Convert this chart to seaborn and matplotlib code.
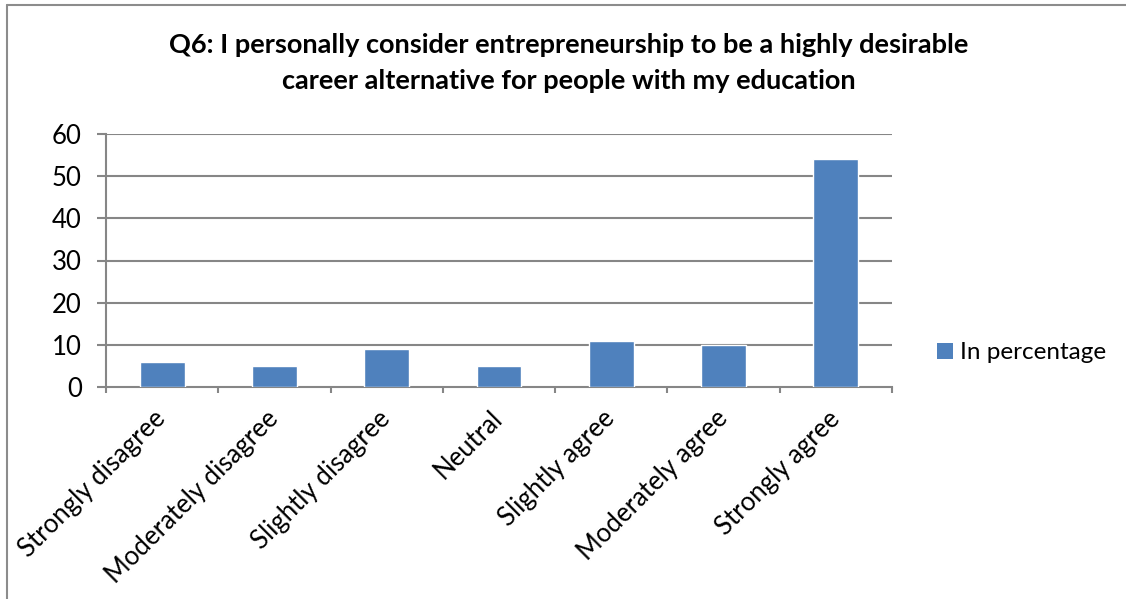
import matplotlib
matplotlib.use("Agg")
import matplotlib.pyplot as plt
import seaborn as sns
import pandas as pd
from matplotlib.patches import Patch
from matplotlib.lines import Line2D

categories = ["Strongly disagree", "Moderately disagree", "Slightly disagree",
              "Neutral", "Slightly agree", "Moderately agree", "Strongly agree"]
values = [6, 5, 9, 5, 11, 10, 54]
series_name = "In percentage"
title = ("Q6: I personally consider entrepreneurship to be a highly desirable\n"
         "career alternative for people with my education")
y_ticks = [0, 10, 20, 30, 40, 50, 60]

sns.set_theme(style="white")
plt.rcParams["font.family"] = ["Lato", "DejaVu Sans"]

W, H = 1126, 599
fig = plt.figure(figsize=(W / 100, H / 100), dpi=100)
ax = fig.add_axes([106 / W, (H - 387) / H, 786 / W, 253 / H])

df = pd.DataFrame({"category": categories, "value": values})
bar_color = "#4F81BD"
grid_color = "#868686"

sns.barplot(data=df, x="category", y="value", color=bar_color, width=0.4,
            saturation=1, ax=ax, zorder=3)

ax.set_xlim(-0.5, len(categories) - 0.5)
ax.set_ylim(0, 60)
ax.set_yticks(y_ticks)
ax.set_xlabel("")
ax.set_ylabel("")

# horizontal grid
for y in y_ticks[1:]:
    ax.axhline(y, color=grid_color, lw=1.5, zorder=1)

for s in ["top", "right"]:
    ax.spines[s].set_visible(False)
for s in ["left", "bottom"]:
    ax.spines[s].set_color(grid_color)
    ax.spines[s].set_linewidth(1.5)

ax.tick_params(axis="y", which="major", direction="out", length=6.5, width=1.5,
               color=grid_color, labelsize=18.5, labelcolor="black", pad=11, left=True)
ax.set_xticks(range(len(categories)))
ax.set_xticklabels(categories, rotation=45, ha="right", va="center",
                   rotation_mode="anchor", fontsize=18.5, color="black")
ax.tick_params(axis="x", which="major", length=0, pad=20)
ax.set_xticks([i - 0.5 for i in range(len(categories) + 1)], minor=True)
ax.tick_params(axis="x", which="minor", direction="out", length=4.5, width=1.5,
               color=grid_color, bottom=True)

fig.suptitle(title, fontsize=19.5, fontweight="bold", x=569 / W, y=1 - 33 / H,
             va="top", linespacing=1.6, color="black")

handle = Patch(facecolor=bar_color, edgecolor="none")
fig.legend([handle], [series_name], loc="center left",
           bbox_to_anchor=(915 / W, 1 - 353 / H), frameon=False, fontsize=17.5,
           handlelength=0.65, handleheight=0.65, handletextpad=0.3,
           labelcolor="black")

# chart area border (top and left edges)
fig.add_artist(Line2D([7 / W, 1.0], [1 - 5 / H, 1 - 5 / H], transform=fig.transFigure,
                      color="#8c8c8c", lw=1.5))
fig.add_artist(Line2D([7 / W, 7 / W], [0, 1 - 5 / H], transform=fig.transFigure,
                      color="#8c8c8c", lw=1.5))

fig.savefig("out.png", dpi=100, facecolor="white")
